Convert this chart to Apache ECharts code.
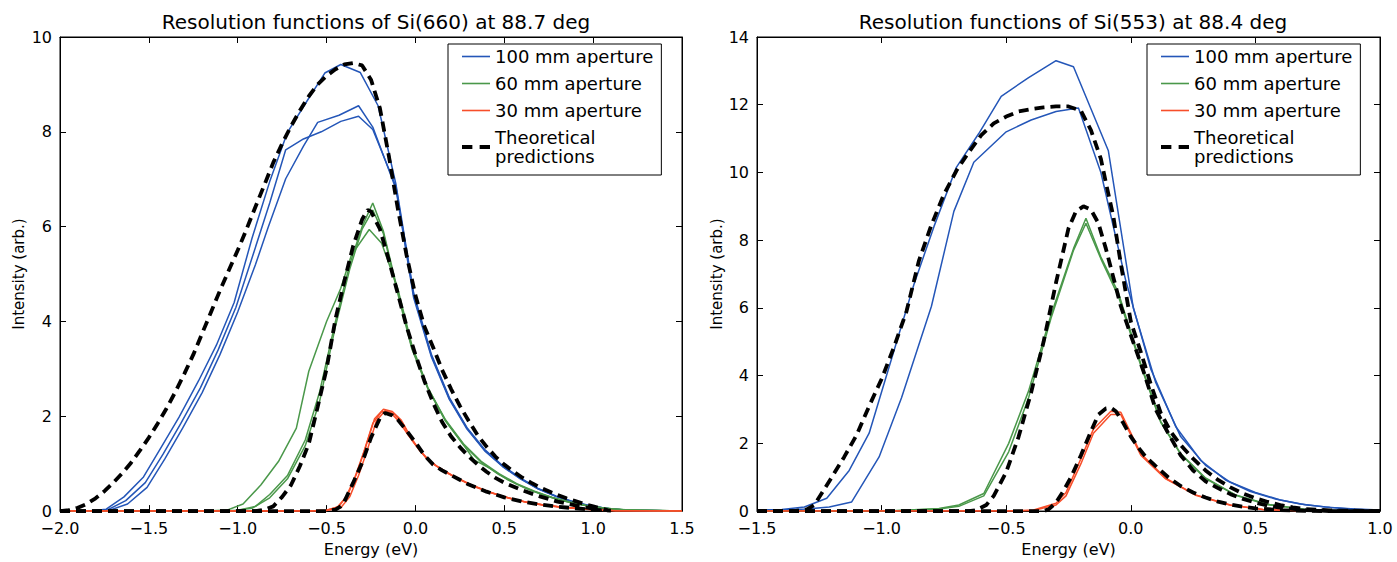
<!DOCTYPE html>
<html><head><meta charset="utf-8">
<script src="https://cdn.jsdelivr.net/npm/echarts@6/dist/echarts.min.js"></script>
<style>html,body{margin:0;padding:0;background:#fff}#c{width:1397px;height:562px}</style>
</head><body><div id="c"></div>
<script>
// ---------- Data (Energy eV, Intensity arb.) ----------
const titles = ['Resolution functions of Si(660) at 88.7 deg', 'Resolution functions of Si(553) at 88.4 deg'];
const legendNames = ['100 mm aperture', '60 mm aperture', '30 mm aperture', 'Theoretical\npredictions'];
const xTicksLeft = [-2.0, -1.5, -1.0, -0.5, 0.0, 0.5, 1.0, 1.5];
const xTicksRight = [-1.5, -1.0, -0.5, 0.0, 0.5, 1.0];

// Left panel: Si(660)
const L_blue1 = [[-2.0,0],[-1.84,0],[-1.74,0.04],[-1.64,0.3],[-1.53,0.72],[-1.43,1.35],[-1.33,1.98],[-1.22,2.75],[-1.12,3.5],[-1.02,4.4],[-0.92,5.75],[-0.82,6.95],[-0.72,7.99],[-0.61,8.65],[-0.51,9.24],[-0.42,9.42],[-0.31,9.25],[-0.21,8.55],[-0.11,6.9],[-0.01,4.6],[0.09,3.3],[0.19,2.4],[0.29,1.76],[0.39,1.3],[0.49,0.96],[0.59,0.7],[0.69,0.48],[0.79,0.32],[0.89,0.2],[0.99,0.11],[1.09,0.05],[1.19,0.02],[1.5,0]];
const L_blue2 = [[-2.0,0],[-1.83,0],[-1.73,0.03],[-1.63,0.22],[-1.52,0.6],[-1.42,1.2],[-1.32,1.85],[-1.21,2.6],[-1.11,3.4],[-1.01,4.3],[-0.91,5.45],[-0.82,6.5],[-0.73,7.62],[-0.63,7.85],[-0.53,8.0],[-0.42,8.22],[-0.32,8.33],[-0.24,8.05],[-0.11,6.85],[-0.01,4.55],[0.09,3.28],[0.19,2.38],[0.29,1.75],[0.39,1.28],[0.49,0.95],[0.59,0.69],[0.69,0.47],[0.79,0.31],[0.89,0.19],[0.99,0.1],[1.09,0.05],[1.19,0.02],[1.5,0]];
const L_blue3 = [[-2.0,0],[-1.82,0],[-1.72,0.02],[-1.62,0.15],[-1.51,0.5],[-1.41,1.1],[-1.31,1.75],[-1.2,2.5],[-1.1,3.3],[-1.0,4.2],[-0.9,5.2],[-0.83,5.97],[-0.73,7.01],[-0.63,7.7],[-0.55,8.2],[-0.43,8.35],[-0.32,8.55],[-0.24,8.1],[-0.11,6.8],[-0.01,4.5],[0.09,3.25],[0.19,2.36],[0.29,1.73],[0.39,1.27],[0.49,0.94],[0.59,0.68],[0.69,0.47],[0.79,0.31],[0.89,0.19],[0.99,0.1],[1.09,0.05],[1.19,0.02],[1.5,0]];
const L_green1 = [[-2.0,0],[-1.2,0],[-1.06,0.02],[-0.97,0.15],[-0.87,0.55],[-0.77,1.05],[-0.67,1.75],[-0.6,2.95],[-0.5,4.0],[-0.42,4.7],[-0.36,5.4],[-0.26,5.94],[-0.19,5.65],[-0.1,4.7],[-0.02,3.5],[0.07,2.6],[0.17,1.9],[0.27,1.4],[0.33,1.08],[0.42,0.9],[0.52,0.66],[0.62,0.48],[0.72,0.34],[0.82,0.23],[0.92,0.14],[1.02,0.08],[1.12,0.04],[1.25,0.02],[1.5,0]];
const L_green2 = [[-2.0,0],[-1.2,0],[-1.0,0.02],[-0.9,0.1],[-0.82,0.35],[-0.72,0.75],[-0.62,1.5],[-0.54,2.5],[-0.45,4.0],[-0.37,5.2],[-0.3,6.0],[-0.24,6.5],[-0.18,5.9],[-0.1,4.65],[-0.02,3.45],[0.07,2.6],[0.17,1.92],[0.27,1.42],[0.37,1.05],[0.47,0.79],[0.57,0.58],[0.67,0.42],[0.77,0.29],[0.87,0.19],[0.97,0.11],[1.07,0.06],[1.17,0.03],[1.5,0]];
const L_green3 = [[-2.0,0],[-1.2,0],[-1.02,0.01],[-0.92,0.06],[-0.82,0.28],[-0.72,0.68],[-0.62,1.38],[-0.54,2.3],[-0.45,3.9],[-0.37,5.1],[-0.3,5.95],[-0.24,6.35],[-0.18,5.85],[-0.1,4.6],[-0.02,3.42],[0.07,2.58],[0.17,1.9],[0.27,1.4],[0.37,1.03],[0.47,0.77],[0.57,0.57],[0.67,0.41],[0.77,0.28],[0.87,0.18],[0.97,0.11],[1.07,0.06],[1.17,0.03],[1.5,0]];
const L_red1 = [[-2.0,0],[-0.6,0],[-0.5,0.02],[-0.44,0.08],[-0.39,0.3],[-0.34,0.72],[-0.29,1.25],[-0.24,1.85],[-0.19,2.1],[-0.14,2.08],[-0.09,1.88],[-0.04,1.6],[0.01,1.35],[0.06,1.12],[0.11,0.97],[0.16,0.86],[0.21,0.75],[0.31,0.56],[0.41,0.41],[0.51,0.29],[0.61,0.2],[0.71,0.14],[0.81,0.09],[0.91,0.06],[1.01,0.03],[1.11,0.01],[1.5,0]];
const L_red2 = [[-2.0,0],[-0.6,0],[-0.5,0.02],[-0.43,0.1],[-0.38,0.35],[-0.33,0.8],[-0.28,1.35],[-0.23,1.95],[-0.18,2.15],[-0.13,2.1],[-0.08,1.92],[-0.03,1.58],[0.02,1.3],[0.07,1.1],[0.12,0.95],[0.17,0.83],[0.22,0.72],[0.32,0.54],[0.42,0.4],[0.52,0.28],[0.62,0.19],[0.72,0.13],[0.82,0.08],[0.92,0.05],[1.02,0.03],[1.12,0.01],[1.5,0]];
const L_red3 = [[-2.0,0],[-0.6,0],[-0.5,0.01],[-0.42,0.07],[-0.37,0.3],[-0.32,0.75],[-0.27,1.3],[-0.22,1.9],[-0.17,2.12],[-0.12,2.05],[-0.07,1.85],[-0.02,1.5],[0.03,1.25],[0.08,1.05],[0.13,0.92],[0.18,0.8],[0.23,0.7],[0.33,0.52],[0.43,0.38],[0.53,0.27],[0.63,0.18],[0.73,0.12],[0.83,0.08],[0.93,0.05],[1.03,0.02],[1.13,0.01],[1.5,0]];
const L_theory100 = [[-2.0,0],[-1.95,0.02],[-1.9,0.07],[-1.85,0.15],[-1.8,0.27],[-1.75,0.42],[-1.7,0.6],[-1.65,0.8],[-1.6,1.02],[-1.55,1.28],[-1.5,1.55],[-1.45,1.85],[-1.4,2.17],[-1.35,2.52],[-1.3,2.9],[-1.25,3.3],[-1.2,3.75],[-1.15,4.2],[-1.1,4.65],[-1.05,5.08],[-1.0,5.5],[-0.95,5.95],[-0.9,6.42],[-0.85,6.88],[-0.8,7.35],[-0.75,7.75],[-0.7,8.12],[-0.65,8.45],[-0.6,8.75],[-0.55,9.0],[-0.5,9.18],[-0.45,9.32],[-0.4,9.42],[-0.35,9.45],[-0.3,9.4],[-0.25,9.1],[-0.2,8.5],[-0.15,7.5],[-0.1,6.4],[-0.05,5.4],[0.0,4.55],[0.05,3.9],[0.1,3.45],[0.15,2.98],[0.2,2.58],[0.25,2.22],[0.3,1.9],[0.35,1.6],[0.4,1.36],[0.45,1.15],[0.5,0.98],[0.55,0.84],[0.6,0.71],[0.65,0.6],[0.7,0.5],[0.75,0.42],[0.8,0.34],[0.85,0.27],[0.9,0.21],[0.95,0.15],[1.0,0.1],[1.05,0.05],[1.08,0.02]];
const L_theory60 = [[-2.0,0],[-0.9,0],[-0.85,0.03],[-0.8,0.1],[-0.75,0.3],[-0.7,0.55],[-0.65,0.95],[-0.6,1.42],[-0.55,2.2],[-0.5,3.0],[-0.45,4.05],[-0.4,4.85],[-0.35,5.6],[-0.3,6.15],[-0.27,6.35],[-0.25,6.32],[-0.2,5.95],[-0.15,5.3],[-0.1,4.6],[-0.05,3.9],[0.0,3.3],[0.05,2.75],[0.1,2.28],[0.15,1.88],[0.2,1.58],[0.25,1.35],[0.3,1.15],[0.35,0.98],[0.4,0.83],[0.45,0.7],[0.5,0.6],[0.6,0.44],[0.7,0.31],[0.8,0.2],[0.9,0.12],[1.0,0.05],[1.05,0.02]];
const L_theory30 = [[-2.0,0],[-0.5,0],[-0.45,0.03],[-0.42,0.1],[-0.4,0.2],[-0.35,0.6],[-0.3,1.02],[-0.25,1.55],[-0.2,1.96],[-0.17,2.07],[-0.13,2.02],[-0.1,1.93],[-0.05,1.7],[0.0,1.45],[0.05,1.18],[0.1,0.98],[0.15,0.86],[0.2,0.76],[0.3,0.56],[0.4,0.41],[0.5,0.29],[0.6,0.2],[0.7,0.14],[0.8,0.09],[0.9,0.06],[1.0,0.03],[1.1,0.01]];

// Right panel: Si(553)
const R_blue1 = [[-1.5,0.03],[-1.4,0.05],[-1.31,0.12],[-1.22,0.38],[-1.13,1.2],[-1.05,2.3],[-0.96,4.5],[-0.87,6.7],[-0.79,8.4],[-0.7,10.15],[-0.61,11.15],[-0.52,12.25],[-0.41,12.8],[-0.3,13.3],[-0.23,13.12],[-0.09,10.64],[0.01,6.0],[0.1,3.8],[0.2,2.2],[0.3,1.35],[0.4,0.85],[0.5,0.55],[0.6,0.33],[0.7,0.19],[0.8,0.11],[0.9,0.06],[1.0,0.03]];
const R_blue2 = [[-1.5,0.02],[-1.4,0.03],[-1.3,0.06],[-1.21,0.12],[-1.12,0.27],[-1.01,1.6],[-0.92,3.35],[-0.8,6.05],[-0.71,8.85],[-0.63,10.3],[-0.5,11.2],[-0.4,11.55],[-0.3,11.8],[-0.21,11.9],[-0.12,10.0],[-0.02,6.8],[0.08,4.2],[0.18,2.5],[0.28,1.5],[0.38,0.92],[0.48,0.58],[0.58,0.36],[0.68,0.21],[0.78,0.12],[0.88,0.06],[1.0,0.02]];
const R_green1 = [[-1.5,0],[-0.95,0.01],[-0.77,0.08],[-0.69,0.18],[-0.59,0.52],[-0.49,2.0],[-0.41,3.55],[-0.32,5.8],[-0.23,7.75],[-0.18,8.65],[-0.12,7.5],[-0.05,6.45],[0.04,4.35],[0.12,2.65],[0.2,1.7],[0.3,0.98],[0.42,0.48],[0.55,0.2],[0.7,0.05],[0.85,0.01],[1.0,0]];
const R_green2 = [[-1.5,0],[-0.95,0.01],[-0.77,0.06],[-0.69,0.14],[-0.59,0.45],[-0.49,1.75],[-0.41,3.35],[-0.32,5.7],[-0.23,7.7],[-0.18,8.5],[-0.12,7.45],[-0.05,6.35],[0.04,4.3],[0.12,2.62],[0.2,1.68],[0.3,0.96],[0.42,0.47],[0.55,0.19],[0.7,0.05],[0.85,0.01],[1.0,0]];
const R_red1 = [[-1.5,0],[-0.5,0],[-0.39,0.03],[-0.3,0.23],[-0.26,0.55],[-0.2,1.55],[-0.15,2.42],[-0.08,2.95],[-0.04,2.92],[0.04,1.7],[0.14,0.97],[0.26,0.48],[0.4,0.18],[0.53,0.05],[0.7,0.01],[1.0,0]];
const R_red2 = [[-1.5,0],[-0.5,0],[-0.39,0.02],[-0.3,0.18],[-0.26,0.45],[-0.2,1.4],[-0.15,2.3],[-0.08,2.85],[-0.04,2.85],[0.04,1.65],[0.14,0.95],[0.26,0.47],[0.4,0.17],[0.53,0.05],[0.7,0.01],[1.0,0]];
const R_theory100 = [[-1.5,0],[-1.35,0],[-1.3,0.05],[-1.27,0.18],[-1.2,1.0],[-1.15,1.6],[-1.1,2.25],[-1.05,3.1],[-1.0,3.9],[-0.95,4.85],[-0.9,5.9],[-0.85,7.4],[-0.8,8.45],[-0.75,9.35],[-0.7,10.05],[-0.65,10.6],[-0.6,11.1],[-0.55,11.45],[-0.5,11.65],[-0.45,11.8],[-0.4,11.87],[-0.35,11.92],[-0.3,11.95],[-0.25,11.95],[-0.2,11.82],[-0.16,11.25],[-0.12,10.4],[-0.1,9.7],[-0.07,8.7],[-0.04,7.3],[0.0,5.6],[0.04,4.7],[0.08,3.75],[0.12,2.9],[0.16,2.35],[0.2,1.95],[0.25,1.55],[0.3,1.2],[0.35,0.92],[0.4,0.7],[0.45,0.52],[0.5,0.38],[0.55,0.27],[0.6,0.18],[0.65,0.11],[0.7,0.06],[0.8,0.02],[1.0,0]];
const R_theory60 = [[-1.5,0],[-0.65,0],[-0.62,0.03],[-0.58,0.18],[-0.55,0.45],[-0.5,1.15],[-0.45,2.2],[-0.4,3.5],[-0.35,5.0],[-0.3,6.75],[-0.25,8.35],[-0.22,8.85],[-0.19,9.0],[-0.16,8.9],[-0.13,8.5],[-0.1,7.75],[-0.07,6.9],[-0.04,6.05],[0.0,5.2],[0.05,4.15],[0.1,3.0],[0.15,2.3],[0.2,1.65],[0.25,1.2],[0.3,0.88],[0.35,0.68],[0.4,0.5],[0.45,0.36],[0.5,0.25],[0.55,0.16],[0.6,0.1],[0.7,0.03],[0.8,0],[1.0,0]];
const R_theory30 = [[-1.5,0],[-0.35,0],[-0.33,0.05],[-0.3,0.25],[-0.27,0.6],[-0.24,1.0],[-0.2,1.65],[-0.16,2.35],[-0.13,2.85],[-0.1,3.03],[-0.08,3.05],[-0.06,2.95],[-0.03,2.6],[0.0,2.2],[0.03,1.88],[0.06,1.6],[0.1,1.33],[0.15,1.0],[0.2,0.74],[0.25,0.55],[0.3,0.4],[0.35,0.28],[0.4,0.19],[0.45,0.13],[0.5,0.08],[0.6,0.03],[0.7,0.01],[0.8,0],[1.0,0]];

// ---------- Styling ----------
const FONT = 'DejaVu Sans';
const C_BLUE = '#2456b8', C_GREEN = '#4a984a', C_RED = '#f74e2a', C_BLACK = '#000';
const ICON_SOLID = 'path://M0,0H28V1.6H0Z';
const ICON_DASH = 'path://M0,0H10V4H0Z M17,0H27V4H17Z';

function exp(name, data, color, gi) {
  return { type: 'line', name, data, xAxisIndex: gi * 2, yAxisIndex: gi * 2, symbol: 'none',
    lineStyle: { color, width: 1.5 }, itemStyle: { color }, z: 2, silent: true };
}
function theo(data, gi) {
  return { type: 'line', name: legendNames[3], data, xAxisIndex: gi * 2, yAxisIndex: gi * 2, symbol: 'none',
    lineStyle: { color: C_BLACK, width: 3.8, type: [10, 6] }, itemStyle: { color: C_BLACK }, z: 5, silent: true };
}
function fmtX(v) { const s = Math.abs(v).toFixed(1); return (v < -1e-9 ? '\u2212' : '') + s; }
function xAxes(gi, min, max) {
  const base = { type: 'value', gridIndex: gi, min, max, interval: 0.5,
    axisLine: { show: true, onZero: false, lineStyle: { color: '#000', width: 1 } },
    axisTick: { show: true, inside: true, length: 6, lineStyle: { color: '#000' } },
    splitLine: { show: false } };
  return [
    Object.assign({}, base, { position: 'bottom', name: 'Energy (eV)', nameLocation: 'middle', nameGap: 27,
      nameTextStyle: { fontFamily: FONT, fontSize: 16, color: '#000' },
      axisLabel: { fontFamily: FONT, fontSize: 16, color: '#000', margin: 10, lineHeight: 14, formatter: fmtX } }),
    Object.assign({}, base, { position: 'top', axisLabel: { show: false } })
  ];
}
function yAxes(gi, max, nameGap) {
  const base = { type: 'value', gridIndex: gi, min: 0, max, interval: 2,
    axisLine: { show: true, onZero: false, lineStyle: { color: '#000', width: 1 } },
    axisTick: { show: true, inside: true, length: 6, lineStyle: { color: '#000' } },
    splitLine: { show: false } };
  return [
    Object.assign({}, base, { position: 'left', name: 'Intensity (arb.)', nameLocation: 'middle', nameGap,
      nameRotate: 90, nameTextStyle: { fontFamily: FONT, fontSize: 15, color: '#000' },
      axisLabel: { fontFamily: FONT, fontSize: 16, color: '#000', margin: 8, lineHeight: 12 } }),
    Object.assign({}, base, { position: 'right', axisLabel: { show: false } })
  ];
}
function legend(left) {
  return { show: true, orient: 'vertical', left, top: 44, selectedMode: false,
    data: [
      { name: legendNames[0], icon: ICON_SOLID },
      { name: legendNames[1], icon: ICON_SOLID },
      { name: legendNames[2], icon: ICON_SOLID },
      { name: legendNames[3], icon: ICON_DASH }
    ],
    borderColor: '#000', borderWidth: 1, backgroundColor: '#fff', padding: [3, 8, 9, 14],
    itemGap: 8, itemWidth: 28, itemHeight: 14, itemTextGap: 20,
    textStyle: { fontFamily: FONT, fontSize: 18, color: '#000', lineHeight: 19 } };
}

const option = {
  animation: false,
  backgroundColor: '#fff',
  title: [
    { text: titles[0], left: 371, top: 7, textAlign: 'center', textStyle: { fontFamily: FONT, fontSize: 20, fontWeight: 'normal', color: '#000' } },
    { text: titles[1], left: 1068, top: 7, textAlign: 'center', textStyle: { fontFamily: FONT, fontSize: 20, fontWeight: 'normal', color: '#000' } }
  ],
  grid: [
    { left: 60, top: 37, width: 622, height: 479, show: true, borderColor: '#000', borderWidth: 1, backgroundColor: '#fff' },
    { left: 757, top: 37, width: 623, height: 479, show: true, borderColor: '#000', borderWidth: 1, backgroundColor: '#fff' }
  ],
  xAxis: [...xAxes(0, xTicksLeft[0], xTicksLeft[xTicksLeft.length - 1]), ...xAxes(1, xTicksRight[0], xTicksRight[xTicksRight.length - 1])],
  yAxis: [...yAxes(0, 10, 34), ...yAxes(1, 14, 31)],
  legend: [legend(448), legend(1147)],
  series: [
    exp(legendNames[0], L_blue1, C_BLUE, 0), exp(legendNames[0], L_blue2, C_BLUE, 0), exp(legendNames[0], L_blue3, C_BLUE, 0),
    exp(legendNames[1], L_green1, C_GREEN, 0), exp(legendNames[1], L_green2, C_GREEN, 0), exp(legendNames[1], L_green3, C_GREEN, 0),
    exp(legendNames[2], L_red1, C_RED, 0), exp(legendNames[2], L_red2, C_RED, 0), exp(legendNames[2], L_red3, C_RED, 0),
    theo(L_theory100, 0), theo(L_theory60, 0), theo(L_theory30, 0),
    exp(legendNames[0], R_blue1, C_BLUE, 1), exp(legendNames[0], R_blue2, C_BLUE, 1),
    exp(legendNames[1], R_green1, C_GREEN, 1), exp(legendNames[1], R_green2, C_GREEN, 1),
    exp(legendNames[2], R_red1, C_RED, 1), exp(legendNames[2], R_red2, C_RED, 1),
    theo(R_theory100, 1), theo(R_theory60, 1), theo(R_theory30, 1)
  ]
};
const chart = echarts.init(document.getElementById('c'), null, { renderer: 'svg' });
chart.setOption(option);
</script>
</body></html>
